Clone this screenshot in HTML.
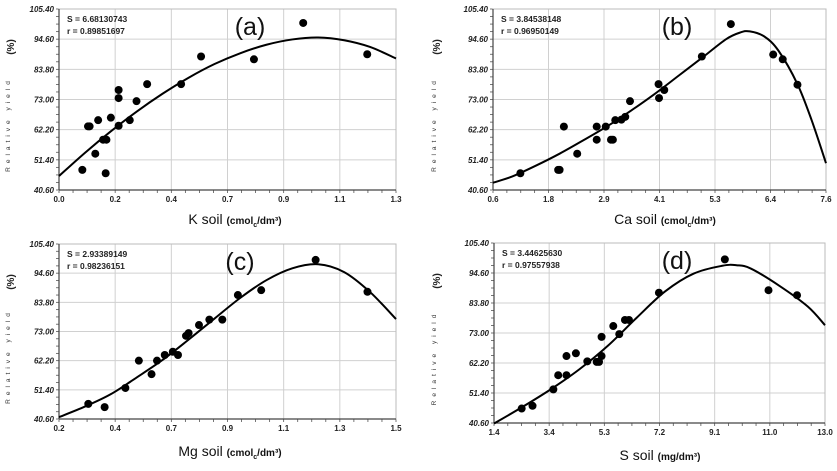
<!DOCTYPE html>
<html><head><meta charset="utf-8">
<style>
html,body{margin:0;padding:0;background:#fff;}
svg{display:block;font-family:"Liberation Sans",sans-serif;}
</style></head>
<body>
<svg id="fig" width="837" height="471" viewBox="0 0 837 471" xmlns="http://www.w3.org/2000/svg"></svg>
<script>
const yTickLabels = ["40.60","51.40","62.20","73.00","83.80","94.60","105.40"];
const yTickValues = [40.6,51.4,62.2,73.0,83.8,94.6,105.4];

const aTickLabels = ["0.0","0.2","0.4","0.7","0.9","1.1","1.3"];
const aPointsX = [0.090,0.112,0.118,0.151,0.140,0.170,0.183,0.180,0.200,0.230,0.230,0.230,0.273,0.299,0.340,0.471,0.548,0.752,0.942,1.189];
const aPointsY = [47.8,63.4,63.4,65.6,53.6,58.6,58.6,46.6,66.5,76.4,73.5,63.6,65.6,72.4,78.5,78.5,88.4,87.4,100.4,89.2];
const aCurveX = [0,0.1,0.2,0.3,0.4,0.5,0.6,0.7,0.8,0.9,1.0,1.1,1.2,1.3];
const aCurveY = [45.6,53.9,61.6,68.7,75.1,80.8,85.7,89.6,92.6,94.5,95.2,94.2,91.8,87.7];

const bTickLabels = ["0.6","1.8","2.9","4.1","5.3","6.4","7.6"];
const bPointsX = [1.175,1.97,2.00,2.09,2.37,2.78,2.78,2.97,3.08,3.12,3.17,3.30,3.38,3.48,4.09,4.08,4.20,4.99,5.60,6.49,6.69,7.00];
const bPointsY = [46.6,47.8,47.8,63.3,53.6,63.3,58.6,63.3,58.6,58.6,65.6,65.8,66.8,72.4,73.5,78.5,76.4,88.4,100.0,89.1,87.4,78.3];
const bCurveX = [0.6,1.0,1.5,2.0,2.5,3.0,3.5,4.0,4.5,5.0,5.5,5.8,6.0,6.3,6.6,7.0,7.3,7.6];
const bCurveY = [43.2,45.4,49.3,53.6,58.4,63.4,69.0,75.0,81.5,88.0,94.6,97.0,97.4,95.6,90.5,78.5,65.5,50.2];

const cTickLabels = ["0.2","0.4","0.7","0.9","1.1","1.3","1.5"];
const cPointsX = [0.313,0.376,0.456,0.508,0.557,0.578,0.608,0.639,0.659,0.690,0.700,0.740,0.780,0.830,0.890,0.980,1.190,1.390];
const cPointsY = [46.2,45.0,52.1,62.2,57.2,62.2,64.3,65.5,64.3,71.4,72.4,75.4,77.4,77.4,86.5,88.3,99.5,87.7];
const cCurveX = [0.2,0.3,0.4,0.5,0.6,0.7,0.8,0.9,1.0,1.1,1.2,1.3,1.4,1.5];
const cCurveY = [41.3,45.2,49.8,56.0,62.5,70.0,77.8,85.5,92.0,96.4,97.9,95.0,87.6,77.6];

const dTickLabels = ["1.4","3.4","5.3","7.2","9.1","11.0","13.0"];
const dPointsX = [2.37,2.75,3.48,3.65,3.94,3.94,4.27,4.67,5.00,5.08,5.17,5.17,5.58,5.79,5.99,6.13,7.18,9.49,11.02,12.02];
const dPointsY = [45.8,46.8,52.7,57.8,57.8,64.7,65.7,62.8,62.6,62.6,64.7,71.6,75.5,72.6,77.7,77.7,87.5,99.5,88.4,86.6];
const dCurveX = [1.4,2.4,3.4,4.4,5.4,6.4,7.4,8.4,9.4,9.9,10.4,11.4,12.4,13.0];
const dCurveY = [40.4,46.4,52.8,60.0,68.5,78.5,88.0,94.4,97.2,97.4,96.2,90.0,82.5,75.8];

const NS="http://www.w3.org/2000/svg";
const svg=document.getElementById('fig');
function mk(tag,attrs,parent,text){const e=document.createElementNS(NS,tag);for(const k in attrs)e.setAttribute(k,attrs[k]);if(text!==undefined)e.textContent=text;(parent||svg).appendChild(e);return e;}

const panels=[
 {id:'a',L:59,R:396,T:9,B:190,xmin:0,xmax:1.3,ticks:aTickLabels,px:aPointsX,py:aPointsY,cx:aCurveX,cy:aCurveY,S:"S = 6.68130743",r:"r = 0.89851697",lab:"(a)",labX:250,xt:"K soil",unit:"(cmol",unit2:"/dm³)",xtX:235,xtY:224,ylX:10},
 {id:'b',L:493,R:826,T:9,B:190,xmin:0.6,xmax:7.6,ticks:bTickLabels,px:bPointsX,py:bPointsY,cx:bCurveX,cy:bCurveY,S:"S = 3.84538148",r:"r = 0.96950149",lab:"(b)",labX:677,xt:"Ca soil",unit:"(cmol",unit2:"/dm³)",xtX:665,xtY:224,ylX:436},
 {id:'c',L:59,R:396,T:244,B:419,xmin:0.2,xmax:1.5,ticks:cTickLabels,px:cPointsX,py:cPointsY,cx:cCurveX,cy:cCurveY,S:"S = 2.93389149",r:"r = 0.98236151",lab:"(c)",labX:240,xt:"Mg soil",unit:"(cmol",unit2:"/dm³)",xtX:230,xtY:456,ylX:10},
 {id:'d',L:494,R:825,T:243,B:423,xmin:1.4,xmax:13.0,ticks:dTickLabels,px:dPointsX,py:dPointsY,cx:dCurveX,cy:dCurveY,S:"S = 3.44625630",r:"r = 0.97557938",lab:"(d)",labX:677,xt:"S soil",unit:"(mg/dm³)",unit2:"",xtX:660,xtY:460,ylX:436}
];

panels.forEach(p=>{
  const g=mk('g',{});
  
  
  const X=v=>p.L+(v-p.xmin)/(p.xmax-p.xmin)*(p.R-p.L);
  const Y=v=>p.B-(v-40.6)/(105.4-40.6)*(p.B-p.T);
  yTickValues.forEach((v,i)=>{
    const y=Y(v);
    if(i>0){const l=mk('line',{x1:p.L,x2:p.R,y1:y,y2:y,stroke:'#d0d0d0','stroke-width':1},g);
    
    }
    const t=mk('text',{x:p.L-5,y:y+3,'text-anchor':'end','font-size':8,'font-weight':'bold','font-style':'italic',fill:'#222'},g,yTickLabels[i]);
    
    
  });
  p.ticks.forEach((lab,i)=>{
    const x=p.L+i*(p.R-p.L)/(p.ticks.length-1);
    if(i>0){const l=mk('line',{x1:x,x2:x,y1:p.T,y2:p.B,stroke:'#d0d0d0','stroke-width':1},g);
    
    }
    const t=mk('text',{x:x,y:p.B+12,'text-anchor':'middle','font-size':8,'font-weight':'bold',fill:'#222'},g,lab);
    
    
  });
  for(let k=0;k<=24;k++){const y=p.B-k*(p.B-p.T)/24;mk('line',{x1:p.L-3,x2:p.L,y1:y,y2:y,stroke:'#555','stroke-width':0.8},g);}
  for(let k=0;k<=24;k++){const x=p.L+k*(p.R-p.L)/24;mk('line',{x1:x,x2:x,y1:p.B,y2:p.B+3,stroke:'#555','stroke-width':0.8},g);}
  const fr=mk('rect',{x:p.L,y:p.T,width:p.R-p.L,height:p.B-p.T,fill:'none',stroke:'#bbb','stroke-width':1},g);
  
  
  mk('line',{x1:p.L,x2:p.L,y1:p.T,y2:p.B,stroke:'#444','stroke-width':1.2},g);
  mk('line',{x1:p.L,x2:p.R,y1:p.B,y2:p.B,stroke:'#444','stroke-width':1.2},g);
  const pts=p.cx.map((v,i)=>[X(v),Y(p.cy[i])]);
  let d='M'+pts[0][0]+','+pts[0][1];
  for(let i=0;i<pts.length-1;i++){
    const p0=pts[Math.max(0,i-1)],p1=pts[i],p2=pts[i+1],p3=pts[Math.min(pts.length-1,i+2)];
    const c1=[p1[0]+(p2[0]-p0[0])/6,p1[1]+(p2[1]-p0[1])/6];
    const c2=[p2[0]-(p3[0]-p1[0])/6,p2[1]-(p3[1]-p1[1])/6];
    d+=' C'+c1[0]+','+c1[1]+' '+c2[0]+','+c2[1]+' '+p2[0]+','+p2[1];
  }
  const cv=mk('path',{d:d,fill:'none',stroke:'#000','stroke-width':2},g);
  
  
  p.px.forEach((v,i)=>{
    const c=mk('circle',{cx:X(v),cy:Y(p.py[i]),r:4,fill:'#000'},g);
    
    
  });
  const s1=mk('text',{x:p.L+8,y:p.T+13,'font-size':8.5,'font-weight':'bold',fill:'#222'},g,p.S);
  
  
  const s2=mk('text',{x:p.L+8,y:p.T+25,'font-size':8.5,'font-weight':'bold',fill:'#222'},g,p.r);
  
  
  const pl=mk('text',{x:p.labX,y:p.T+26,'text-anchor':'middle','font-size':25,fill:'#111'},g,p.lab);
  
  
  const xt=mk('text',{x:p.xtX,y:p.xtY,'text-anchor':'middle','font-size':14,fill:'#111'},g);
  
  
  mk('tspan',{},xt,p.xt+' ');
  mk('tspan',{'font-size':10,'font-weight':'bold'},xt,p.unit);
  if(p.unit2){mk('tspan',{'font-size':7,'font-weight':'bold',dy:3},xt,'c');mk('tspan',{'font-size':10,'font-weight':'bold',dy:-3},xt,p.unit2);}
  const cy=(p.T+p.B)/2;
  const yt=mk('text',{x:p.ylX,y:cy+25,'text-anchor':'middle','font-size':6.5,fill:'#333',transform:'rotate(-90 '+p.ylX+' '+(cy+25)+')','letter-spacing':'4'},g,'Relative yield');
  
  
  const yp=mk('text',{x:p.ylX+4,y:p.T+38,'text-anchor':'middle','font-size':10,'font-weight':'bold',fill:'#222',transform:'rotate(-90 '+(p.ylX+4)+' '+(p.T+38)+')'},g,'(%)');
  
  
});
</script>
</body></html>
